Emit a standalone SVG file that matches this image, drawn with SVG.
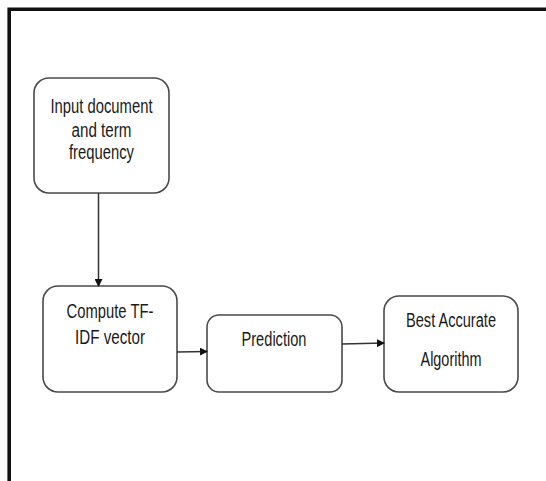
<svg xmlns="http://www.w3.org/2000/svg" width="546" height="481" viewBox="0 0 546 481">
<style>
.box{fill:#fff;stroke:#4a4a4a;stroke-width:1.6}
.lbl{font-family:"Liberation Sans",Arial,sans-serif;font-size:20px;fill:#1a1a1a;text-anchor:middle}
.conn{stroke:#333;stroke-width:1.5;fill:none}
</style>
<defs>
<marker id="ah" markerWidth="8" markerHeight="8" refX="7" refY="4" orient="auto" markerUnits="userSpaceOnUse">
<path d="M0,0 L8,4 L0,8 Z" fill="#111"/>
</marker>
</defs>
<rect width="546" height="481" fill="#fff"/>
<path d="M9.2,481 V9.2 H546" fill="none" stroke="#111" stroke-width="3.6"/>
<g id="n1">
<rect class="box" x="34" y="78" width="135" height="115" rx="15"/>
<text class="lbl" x="101.5" y="112.5" textLength="102" lengthAdjust="spacingAndGlyphs">Input document</text>
<text class="lbl" x="101.5" y="136.5" textLength="60" lengthAdjust="spacingAndGlyphs">and term</text>
<text class="lbl" x="101.5" y="159" textLength="65" lengthAdjust="spacingAndGlyphs">frequency</text>
</g>
<g id="n2">
<rect class="box" x="43" y="286" width="134" height="106" rx="15"/>
<text class="lbl" x="110" y="318" textLength="87" lengthAdjust="spacingAndGlyphs">Compute TF-</text>
<text class="lbl" x="110" y="343.5" textLength="70" lengthAdjust="spacingAndGlyphs">IDF vector</text>
</g>
<g id="n3">
<rect class="box" x="207" y="315" width="135" height="77" rx="12"/>
<text class="lbl" x="274" y="346" textLength="65" lengthAdjust="spacingAndGlyphs">Prediction</text>
</g>
<g id="n4">
<rect class="box" x="384" y="296" width="134" height="96" rx="15"/>
<text class="lbl" x="451" y="326.5" textLength="90" lengthAdjust="spacingAndGlyphs">Best Accurate</text>
<text class="lbl" x="451" y="366" textLength="61" lengthAdjust="spacingAndGlyphs">Algorithm</text>
</g>
<g id="connectors">
<path class="conn" d="M98.5,193 V286" marker-end="url(#ah)"/>
<path class="conn" d="M177,352 L207,351.5" marker-end="url(#ah)"/>
<path class="conn" d="M342,344 L384,343" marker-end="url(#ah)"/>
</g>
</svg>
